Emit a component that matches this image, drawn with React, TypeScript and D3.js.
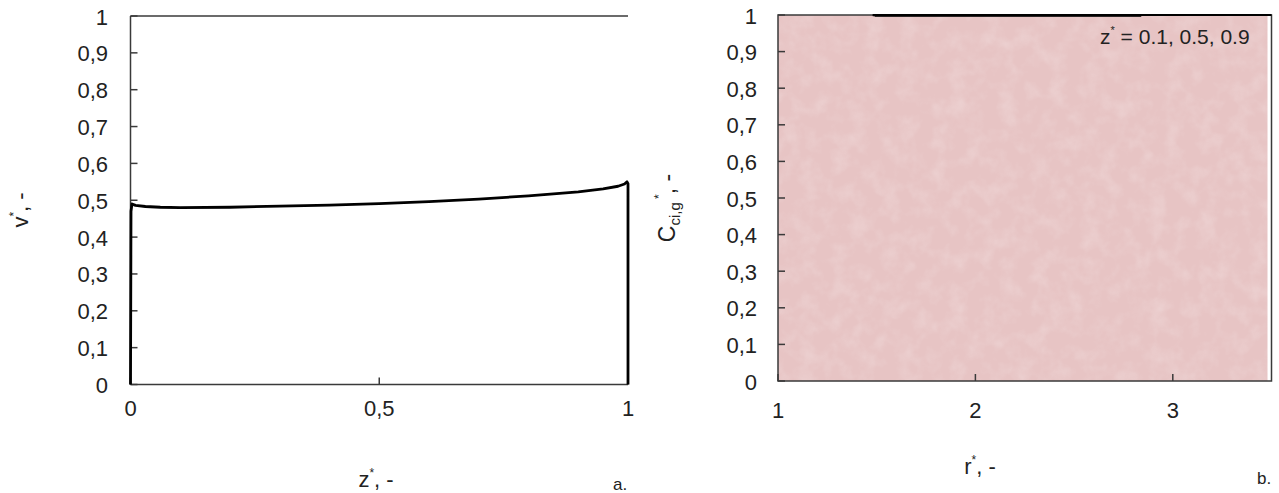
import React from "react";
import * as d3 from "d3";

// Panel a: dimensionless velocity v* along the reactor length z*
const zValues = [0, 0.001, 0.003, 0.01, 0.03, 0.06, 0.1, 0.2, 0.3, 0.4, 0.5, 0.6, 0.7, 0.8, 0.9, 0.95, 0.98, 0.993, 0.998, 1.0, 1.0];
const vValues = [0, 0.47, 0.49, 0.486, 0.483, 0.481, 0.48, 0.481, 0.484, 0.487, 0.491, 0.496, 0.503, 0.512, 0.523, 0.531, 0.538, 0.544, 0.55, 0.545, 0];

// Panel b: concentration C*ci,g against radius r* for z* = 0.1, 0.5, 0.9
const rSeries01 = [1.48, 2.0, 2.5, 3.0, 3.5];
const cSeries01 = [1, 1, 1, 1, 1];
const rSeries05 = [1.48, 2.0, 2.5, 2.84];
const cSeries05 = [0.999, 0.999, 0.999, 0.999];
const rSeries09 = [1.49, 2.0, 2.5, 2.84];
const cSeries09 = [0.998, 0.998, 0.998, 0.998];

const yTicks = [0, 0.1, 0.2, 0.3, 0.4, 0.5, 0.6, 0.7, 0.8, 0.9, 1];
const xTicksA = [0, 0.5, 1];
const xTicksB = [1, 2, 3];

const FONT = "'Liberation Sans', Arial, sans-serif";
const AXIS = "#3a3a3a";
const comma = (v: number) => d3.format("~g")(v).replace(".", ",");

export default function App() {
  const W = 1279;
  const H = 493;

  const xA = d3.scaleLinear().domain([0, 1]).range([130.5, 628]);
  const yA = d3.scaleLinear().domain([0, 1]).range([384.5, 16]);
  const xB = d3.scaleLinear().domain([1, 3.5]).range([778, 1271.5]);
  const yB = d3.scaleLinear().domain([0, 1]).range([381, 15]);

  const lineA = d3
    .line<number>()
    .x((_, i) => xA(zValues[i]))
    .y((v) => yA(v));

  const lineB = (rs: number[]) =>
    d3
      .line<number>()
      .x((_, i) => xB(rs[i]))
      .y((c) => yB(c));

  return (
    <svg
      width={W}
      height={H}
      style={{ position: "absolute", left: 0, top: 0, background: "#fff" }}
      fontFamily={FONT}
    >
      <defs>
        <filter id="paper" x="0" y="0" width="100%" height="100%">
          <feTurbulence type="fractalNoise" baseFrequency="0.06" numOctaves="3" seed="4" result="n" />
          <feColorMatrix
            in="n"
            type="matrix"
            values="0 0 0 0 1  0 0 0 0 1  0 0 0 0 1  0 0 0 1.1 -0.45"
          />
        </filter>
        <clipPath id="plotB">
          <rect x={xB(1)} y={yB(1) - 3} width={xB(3.5) - xB(1) + 2} height={yB(0) - yB(1) + 3} />
        </clipPath>
      </defs>

      {/* ---------- panel a ---------- */}
      <g>
        {yTicks.map((t) => (
          <g key={"ya" + t}>
            <line x1={xA(0)} x2={xA(0) + 7} y1={yA(t)} y2={yA(t)} stroke={AXIS} strokeWidth={1.5} />
            <text x={108} y={yA(t) + 1} textAnchor="end" dominantBaseline="central" fontSize={22} fill="#222">
              {comma(t)}
            </text>
          </g>
        ))}
        {xTicksA.map((t) => (
          <g key={"xa" + t}>
            <line x1={xA(t)} x2={xA(t)} y1={yA(0)} y2={yA(0) - 7} stroke={AXIS} strokeWidth={1.5} />
            <text x={xA(t)} y={416} textAnchor="middle" fontSize={22} fill="#222">
              {comma(t)}
            </text>
          </g>
        ))}
        <line x1={xA(0)} x2={xA(1)} y1={yA(1)} y2={yA(1)} stroke={AXIS} strokeWidth={1.5} />
        <line x1={xA(0)} x2={xA(0)} y1={yA(1)} y2={yA(0)} stroke={AXIS} strokeWidth={1.5} />
        <line x1={xA(0)} x2={xA(1)} y1={yA(0)} y2={yA(0)} stroke={AXIS} strokeWidth={1.5} />
        <path d={lineA(vValues) ?? ""} fill="none" stroke="#000" strokeWidth={2.8} strokeLinejoin="round" />

        <text transform="translate(28,210) rotate(-90)" textAnchor="middle" fontSize={22} fill="#222">
          v<tspan fontSize={12} dy={-10}>*</tspan>
          <tspan dy={10}>, -</tspan>
        </text>
        <text x={376} y={487} textAnchor="middle" fontSize={22} fill="#222">
          z<tspan fontSize={12} dy={-10}>*</tspan>
          <tspan dy={10}>, -</tspan>
        </text>
        <text x={613} y={490} fontSize={17} fill="#222">
          a.
        </text>
      </g>

      {/* ---------- panel b ---------- */}
      <g>
        <rect x={xB(1)} y={yB(1)} width={xB(3.5) - xB(1) - 4} height={yB(0) - yB(1)} fill="#e7c4c4" />
        <rect
          x={xB(1)}
          y={yB(1)}
          width={xB(3.5) - xB(1) - 4}
          height={yB(0) - yB(1)}
          fill="#fff"
          filter="url(#paper)"
          opacity={0.35}
        />
        {yTicks.map((t) => (
          <g key={"yb" + t}>
            <line x1={xB(1)} x2={xB(1) + 7} y1={yB(t)} y2={yB(t)} stroke={AXIS} strokeWidth={1.5} />
            <text x={757} y={yB(t) + 1} textAnchor="end" dominantBaseline="central" fontSize={22} fill="#222">
              {comma(t)}
            </text>
          </g>
        ))}
        {xTicksB.map((t) => (
          <g key={"xb" + t}>
            <line x1={xB(t)} x2={xB(t)} y1={yB(0)} y2={yB(0) - 7} stroke={AXIS} strokeWidth={1.5} />
            <text x={xB(t)} y={418} textAnchor="middle" fontSize={22} fill="#222">
              {t}
            </text>
          </g>
        ))}
        <rect
          x={xB(1)}
          y={yB(1)}
          width={xB(3.5) - xB(1)}
          height={yB(0) - yB(1)}
          fill="none"
          stroke={AXIS}
          strokeWidth={1.5}
        />
        <g clipPath="url(#plotB)">
          <path d={lineB(rSeries01)(cSeries01) ?? ""} fill="none" stroke="#000" strokeWidth={2} />
          <path d={lineB(rSeries05)(cSeries05) ?? ""} fill="none" stroke="#000" strokeWidth={2} />
          <path d={lineB(rSeries09)(cSeries09) ?? ""} fill="none" stroke="#000" strokeWidth={2} />
        </g>
        <text x={1100} y={44} fontSize={21} fill="#222">
          z<tspan fontSize={11} dy={-10}>*</tspan>
          <tspan dy={10}> = 0.1, 0.5, 0.9</tspan>
        </text>

        <text transform="translate(675,208) rotate(-90)" textAnchor="middle" fontSize={23} fill="#222">
          C<tspan fontSize={15} dy={5}>ci,g</tspan>
          <tspan fontSize={12} dy={-17}> *</tspan>
          <tspan dy={12}>, -</tspan>
        </text>
        <text x={980} y={474} textAnchor="middle" fontSize={22} fill="#222">
          r<tspan fontSize={12} dy={-10}>*</tspan>
          <tspan dy={10}>, -</tspan>
        </text>
        <text x={1257} y={484} fontSize={17} fill="#222">
          b.
        </text>
      </g>
    </svg>
  );
}
